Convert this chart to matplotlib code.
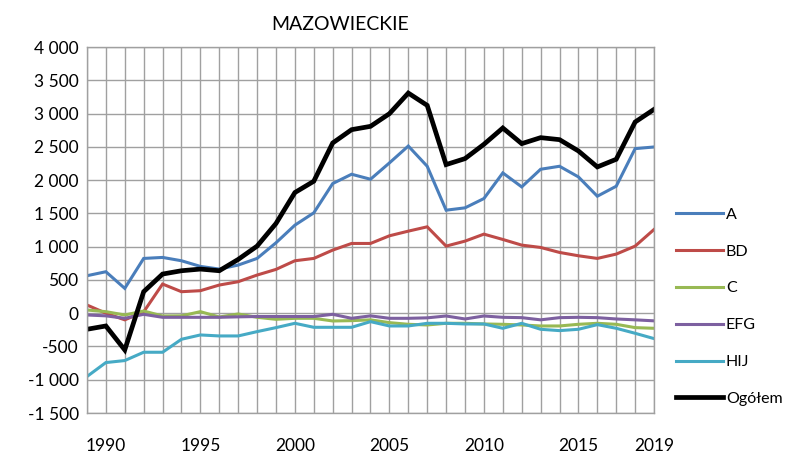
import matplotlib.pyplot as plt
import numpy as np

plt.rcParams['font.family'] = ['Lato', 'DejaVu Sans']

years = list(range(1989, 2020))

A = [563, 623, 373, 823, 838, 788, 703, 663, 723, 823, 1058, 1323, 1508, 1948, 2088, 2013,
     2258, 2512, 2208, 1548, 1583, 1723, 2108, 1898, 2163, 2208, 2048, 1758, 1908, 2473, 2498]
BD = [123, 0, -100, 20, 438, 323, 338, 423, 473, 573, 658, 788, 823, 948, 1048, 1048,
      1163, 1233, 1298, 1008, 1083, 1188, 1108, 1023, 988, 913, 863, 823, 888, 1008, 1258]
C = [48, 23, -27, 33, -42, -40, 23, -57, -12, -62, -92, -77, -77, -117, -112, -100,
     -142, -167, -177, -152, -152, -162, -167, -177, -192, -192, -167, -152, -167, -217, -227]
EFG = [-27, -40, -77, -17, -62, -62, -62, -62, -55, -50, -50, -50, -50, -17, -77, -40,
       -77, -77, -70, -42, -87, -42, -62, -67, -100, -67, -62, -67, -87, -100, -115]
HIJ = [-952, -742, -712, -587, -587, -392, -327, -342, -342, -277, -217, -152, -212, -212, -212, -127,
       -192, -192, -152, -152, -162, -162, -227, -152, -242, -262, -242, -172, -227, -302, -382]
total = [-242, -192, -552, 323, 588, 638, 663, 638, 808, 1008, 1348, 1813, 1983, 2558, 2758, 2808,
         2998, 3308, 3123, 2233, 2323, 2538, 2783, 2548, 2638, 2608, 2438, 2198, 2313, 2873, 3063]

series = [("A", A, "#4a7ebb"), ("BD", BD, "#be4b48"), ("C", C, "#98b954"),
          ("EFG", EFG, "#7d60a0"), ("HIJ", HIJ, "#46aac5")]

year_labels = [1990, 1995, 2000, 2005, 2010, 2015, 2019]
y_ticks = list(range(-1500, 4001, 500))

fig = plt.figure(figsize=(7.92, 4.53), dpi=100)
ax = fig.add_axes([0.1098, 0.0883, 0.7160, 0.8079])

for name, vals, col in series:
    ax.plot(years, vals, color=col, lw=2.2, label=name, solid_joinstyle='miter')
ax.plot(years, total, color="black", lw=3.4, label="Ogółem", solid_joinstyle='miter')

ax.set_xlim(1989, 2019)
ax.set_ylim(-1500, 4000)
ax.set_xticks(years)
ax.set_xticklabels([str(y) if y in year_labels else "" for y in years], fontsize=12.5)
ax.set_yticks(y_ticks)
ax.set_yticklabels([f"{v:,}".replace(",", " ") for v in y_ticks], fontsize=12.5)
ax.tick_params(length=0)
ax.tick_params(axis='x', pad=18)
ax.tick_params(axis='y', pad=6)
ax.grid(True, color="#a0a0a0", lw=1)
for s in ax.spines.values():
    s.set_color("#a0a0a0")
    s.set_linewidth(1)
ax.set_axisbelow(True)

ax.set_title("MAZOWIECKIE", fontsize=14, pad=12, x=0.446)

fig.legend(loc="upper left", bbox_to_anchor=(0.853, 0.542), frameon=False,
           fontsize=11.5, handlelength=3.0, handletextpad=0.15, labelspacing=1.42,
           borderaxespad=0, borderpad=0)

fig.savefig("out.png", dpi=100)
